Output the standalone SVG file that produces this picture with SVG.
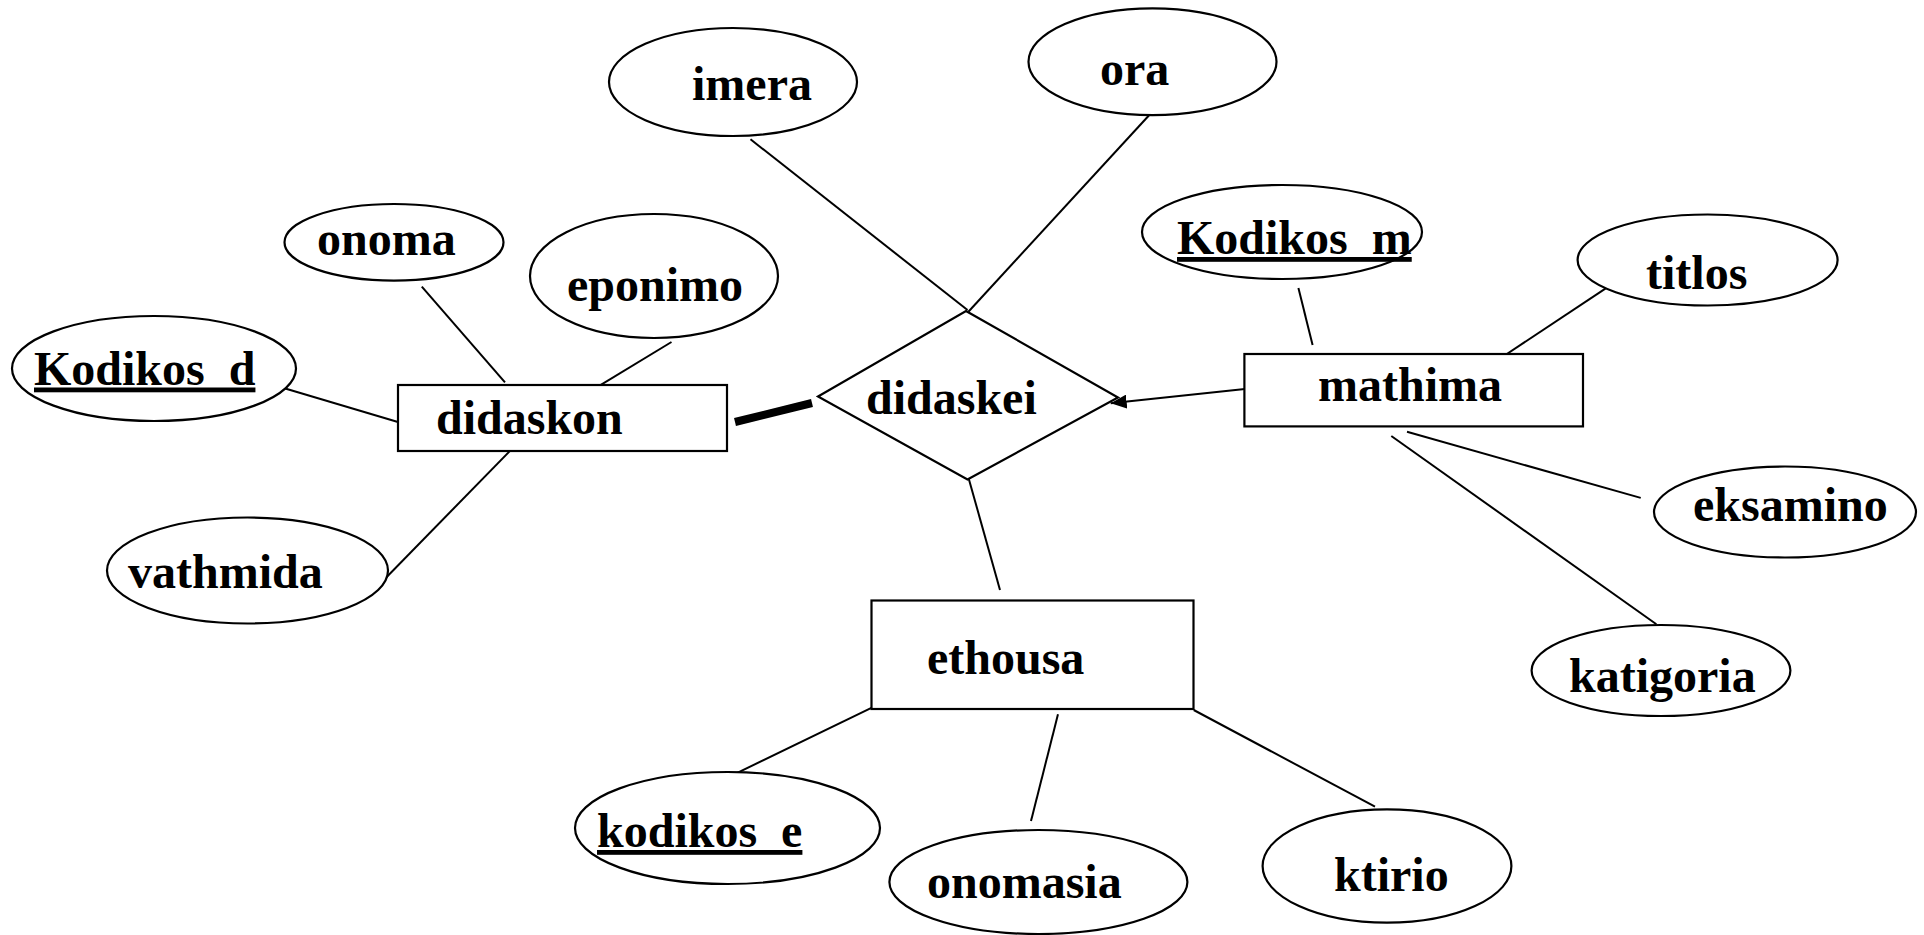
<svg xmlns="http://www.w3.org/2000/svg" width="1924" height="935" viewBox="0 0 1924 935">
<style>
  .shape { fill: #ffffff; stroke: #000000; stroke-width: 2.2; }
  .conn line { stroke: #000000; stroke-width: 2; }
  text { font-family: "Liberation Serif", "Times New Roman", serif; font-weight: bold; font-size: 48px; fill: #000000; }
  .key { text-decoration: underline; }
</style>
<defs>
  <marker id="arrow" markerUnits="userSpaceOnUse" markerWidth="18" markerHeight="14" refX="16" refY="7" orient="auto">
    <path d="M0,0 L16,7 L0,14 z" fill="#000000"/>
  </marker>
</defs>
<rect x="0" y="0" width="1924" height="935" fill="#ffffff"/>
<g id="connectors" class="conn">
  <line x1="421.8" y1="286.7" x2="505" y2="382.3"/>
  <line x1="671.5" y1="342" x2="593.4" y2="389.3"/>
  <line x1="281" y1="387.3" x2="408" y2="425"/>
  <line x1="515" y1="445.7" x2="374" y2="590"/>
  <line x1="750.5" y1="139.3" x2="967.5" y2="310"/>
  <line x1="1156" y1="107.7" x2="968.4" y2="311.7"/>
  <line x1="735" y1="422" x2="812" y2="403" style="stroke-width:8"/>
  <line x1="1249.6" y1="388.6" x2="1110.7" y2="403.3" marker-end="url(#arrow)"/>
  <line x1="968" y1="476" x2="1000" y2="590"/>
  <line x1="1298.4" y1="287.9" x2="1312.6" y2="345"/>
  <line x1="1608" y1="286.8" x2="1501.6" y2="357.5"/>
  <line x1="1407" y1="431.8" x2="1640.7" y2="497.9"/>
  <line x1="1391.3" y1="436" x2="1656.4" y2="624.3"/>
  <line x1="871.9" y1="707.7" x2="728" y2="777.3"/>
  <line x1="1058" y1="714.3" x2="1031" y2="821"/>
  <line x1="1193.75" y1="710" x2="1375" y2="806.7"/>
</g>
<g id="imera"><ellipse class="shape" cx="733" cy="82" rx="124" ry="54"/><text x="692" y="100">imera</text></g>
<g id="ora"><ellipse class="shape" cx="1152.5" cy="61.7" rx="124" ry="53.4"/><text x="1100" y="85">ora</text></g>
<g id="onoma"><ellipse class="shape" cx="394" cy="242.3" rx="109.5" ry="38.3"/><text x="317" y="255">onoma</text></g>
<g id="eponimo"><ellipse class="shape" cx="654" cy="276" rx="124" ry="62"/><text x="567" y="300.5">eponimo</text></g>
<g id="kodikos_d"><ellipse class="shape" cx="154" cy="368.5" rx="142" ry="52.5"/><text class="key" x="34" y="384.5">Kodikos_d</text></g>
<g id="vathmida"><ellipse class="shape" cx="247.5" cy="570.5" rx="140.5" ry="53"/><text x="128" y="587.5">vathmida</text></g>
<g id="didaskon"><rect class="shape" x="398" y="385" width="329" height="66"/><text x="436" y="434">didaskon</text></g>
<g id="didaskei"><polygon class="shape" points="966,311 1118,397.5 967.5,479.5 818,396.5"/><text x="866" y="413.5">didaskei</text></g>
<g id="mathima"><rect class="shape" x="1244.4" y="354" width="338.6" height="72.4"/><text x="1318" y="400.5">mathima</text></g>
<g id="kodikos_m"><ellipse class="shape" cx="1282" cy="232" rx="140" ry="47"/><text class="key" x="1177" y="254">Kodikos_m</text></g>
<g id="titlos"><ellipse class="shape" cx="1707.6" cy="260" rx="130" ry="45.5"/><text x="1646" y="288.5">titlos</text></g>
<g id="eksamino"><ellipse class="shape" cx="1785" cy="512" rx="131" ry="45.5"/><text x="1693" y="520.5">eksamino</text></g>
<g id="katigoria"><ellipse class="shape" cx="1661" cy="670.5" rx="129.4" ry="45.5"/><text x="1569" y="692">katigoria</text></g>
<g id="ethousa"><rect class="shape" x="871.5" y="600.5" width="322" height="108.5"/><text x="927" y="674">ethousa</text></g>
<g id="kodikos_e"><ellipse class="shape" cx="727.5" cy="828" rx="152.5" ry="56"/><text class="key" x="597" y="847">kodikos_e</text></g>
<g id="onomasia"><ellipse class="shape" cx="1038.4" cy="882" rx="149" ry="52"/><text x="927" y="897.5">onomasia</text></g>
<g id="ktirio"><ellipse class="shape" cx="1387" cy="866" rx="124.4" ry="56.7"/><text x="1334" y="890.5">ktirio</text></g>
</svg>
